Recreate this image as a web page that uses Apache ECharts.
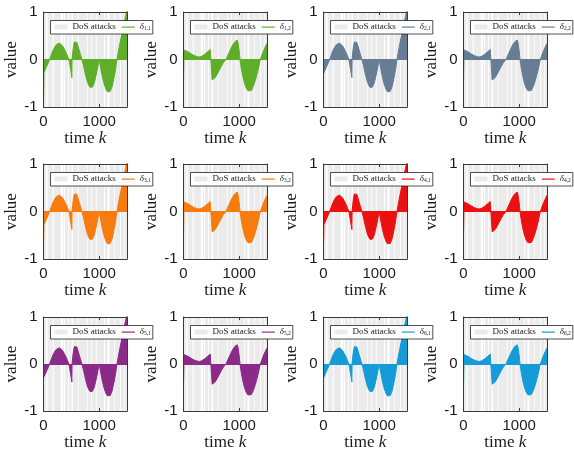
<!DOCTYPE html>
<html>
<head>
<meta charset="utf-8">
<script src="https://cdn.jsdelivr.net/npm/echarts@6/dist/echarts.min.js"></script>
<style>html,body{margin:0;padding:0;background:#fff}#c{width:574px;height:453px}</style>
</head>
<body>
<div id="c"></div>
<script>
// ---- data ----
var seriesNames = ['δ1,1','δ1,2','δ2,1','δ2,2','δ3,1','δ3,2','δ4,1','δ4,2','δ5,1','δ5,2','δ6,1','δ6,2'];
var seriesColors = ['#5fae2a','#5fae2a','#667d94','#667d94','#f87b0e','#f87b0e','#ec1111','#ec1111','#8c2a89','#8c2a89','#149bd8','#149bd8'];
// initial jump at k=0 : [upper, lower]
var initialSpikes = [[1,-0.95],[0.5,-0.45],[0.2,-0.3],[0.5,-0.5],[1,-0.75],[0.45,-0.5],[1,-0.7],[0.5,-0.5],[1,0],[0.45,-0.45],[0.2,-0.3],[0.5,-0.5]];
// envelope of delta_{i,1}
var envelopeFirst = [[8,-0.27],[30,-0.22],[60,-0.14],[90,-0.06],[110,0],[140,0.1],[170,0.19],[200,0.26],[230,0.31],[260,0.34],[285,0.345],[310,0.33],[340,0.29],[370,0.23],[400,0.16],[430,0.08],[455,0],
  [470,-0.1],[485,-0.2],[500,-0.3],[510,-0.38],[514,0],[525,0.15],[540,0.29],[555,0.37],[570,0.41],[585,0.4],[600,0.36],[620,0.28],[645,0.18],[670,0.08],[690,0],
  [720,-0.14],[750,-0.3],[780,-0.44],[810,-0.54],[840,-0.59],[860,-0.6],[880,-0.58],[910,-0.5],[940,-0.36],[970,-0.19],[1000,0],
  [1030,-0.2],[1060,-0.38],[1090,-0.52],[1120,-0.62],[1150,-0.68],[1175,-0.69],[1200,-0.67],[1230,-0.58],[1260,-0.43],[1290,-0.24],[1320,0],
  [1350,0.2],[1380,0.38],[1410,0.56],[1440,0.73],[1470,0.9],[1500,1.05]];
// envelope of delta_{i,2}
var envelopeSecond = [[10,0.2],[50,0.18],[100,0.15],[150,0.11],[200,0.08],[250,0.06],[290,0.055],[330,0.07],[380,0.11],[430,0.16],[480,0.21],[510,0.25],
  [515,-0.43],[540,-0.42],[570,-0.38],[600,-0.32],[640,-0.23],[680,-0.14],[720,-0.06],[765,0],
  [800,0.1],[840,0.2],[880,0.3],[920,0.37],[950,0.41],[965,0.41],[980,0.35],[1000,0.18],[1015,0],
  [1040,-0.2],[1070,-0.38],[1100,-0.52],[1130,-0.61],[1160,-0.66],[1190,-0.68],[1220,-0.65],[1260,-0.55],[1300,-0.4],[1340,-0.22],[1380,0],
  [1410,0.1],[1440,0.19],[1470,0.27],[1500,0.34]];
// DoS attack intervals
var dosIntervals = [[0,50],[75,165],[185,310],[350,365],[385,440],[455,505],[530,615],[630,780],[795,855],[870,940],[955,1090],[1105,1150],[1185,1270],[1285,1375],[1390,1450],[1460,1500]];
var xTicks = [0, 1000];
var yTicks = [-1, 0, 1];

// ---- layout ----
var colLeft = [43.5, 183.5, 323.5, 463.5];
var rowTop = [12, 164, 317];
var rowH = [95, 95, 94];
var gridW = 83.5;
var dosColor = '#ebebeb';
var frameColor = '#3a3a3a';
var textColor = '#1a1a1a';

var option = {animation:false, grid:[], xAxis:[], yAxis:[], series:[], legend:[]};
for (var p = 0; p < 12; p++) {
  var r = Math.floor(p/4), c = p % 4;
  option.grid.push({left:colLeft[c], top:rowTop[r], width:gridW, height:rowH[r], containLabel:false});
  var common = {gridIndex:p, type:'value', min:xTicks[0], max:1500, interval:xTicks[1]-xTicks[0], z:5,
    axisLine:{show:true, onZero:false, lineStyle:{color:frameColor, width:1}},
    axisTick:{show:true, inside:true, length:3, lineStyle:{color:frameColor}},
    splitLine:{show:false}};
  option.xAxis.push(Object.assign({}, common, {position:'bottom',
    axisLabel:{show:true, showMaxLabel:false, margin:7, fontFamily:'Liberation Sans', fontSize:15, color:textColor,
      formatter:function(v){return String(v);}},
    name:'{a|time }{b|k}', nameLocation:'middle', nameGap:22,
    nameTextStyle:{color:textColor, fontFamily:'Liberation Serif', fontSize:17,
      rich:{a:{fontFamily:'Liberation Serif', fontSize:17, color:textColor}, b:{fontFamily:'Liberation Serif', fontSize:17, fontStyle:'italic', color:textColor}}}}));
  option.xAxis.push(Object.assign({}, common, {position:'top', axisLabel:{show:false}}));
  var ycommon = {gridIndex:p, type:'value', min:yTicks[0], max:yTicks[2], interval:yTicks[1]-yTicks[0], z:5,
    axisLine:{show:true, onZero:false, lineStyle:{color:frameColor, width:1}},
    axisTick:{show:false}, splitLine:{show:false}};
  option.yAxis.push(Object.assign({}, ycommon, {position:'left',
    axisLabel:{show:true, margin:6, fontFamily:'Liberation Sans', fontSize:15, color:textColor},
    name:'value', nameLocation:'middle', nameGap:23, nameRotate:90,
    nameTextStyle:{color:textColor, fontFamily:'Liberation Serif', fontSize:17}}));
  option.yAxis.push(Object.assign({}, ycommon, {position:'right', axisLabel:{show:false}}));

  option.series.push({
    name:'DoS attacks', type:'custom', xAxisIndex:2*p, yAxisIndex:2*p, z:1, silent:true,
    encode:{x:[0,1]},
    data:dosIntervals,
    itemStyle:{color:dosColor},
    renderItem:function(params, api){
      var cs = params.coordSys;
      var s = api.coord([api.value(0), 0]);
      var e = api.coord([api.value(1), 0]);
      var rect = echarts.graphic.clipRectByRect({x:s[0], y:cs.y, width:e[0]-s[0], height:cs.height},
        {x:cs.x, y:cs.y, width:cs.width, height:cs.height});
      if (!rect) return null;
      return {type:'rect', shape:rect, style:{fill:dosColor}};
    }
  });
  var env = (c % 2 === 0) ? envelopeFirst : envelopeSecond;
  var data = [[0, initialSpikes[p][0]], [0, initialSpikes[p][1]]].concat(env);
  option.series.push({
    name:seriesNames[p], type:'line', xAxisIndex:2*p, yAxisIndex:2*p, z:2,
    data:data, showSymbol:false, symbol:'none', smooth:false, clip:true,
    lineStyle:{color:seriesColors[p], width:1},
    itemStyle:{color:seriesColors[p]},
    areaStyle:{color:seriesColors[p], opacity:1},
    markLine:{silent:true, symbol:['none','none'], label:{show:false},
      lineStyle:{color:seriesColors[p], width:1, type:'solid'}, data:[{yAxis:0}]}
  });
  option.legend.push({
    left:colLeft[c]+7, top:rowTop[r]+8.5, width:100, orient:'horizontal', z:10,
    selectedMode:false, backgroundColor:'#fff', borderColor:'#222', borderWidth:0.8,
    padding:[2,2,2,4], itemGap:6, itemWidth:13, itemHeight:5,
    textStyle:{fontFamily:'Liberation Serif', fontSize:9, color:textColor,
      rich:{d:{fontFamily:'Liberation Serif', fontSize:9, fontStyle:'italic', color:textColor, lineHeight:10, verticalAlign:'middle'},
            s:{fontFamily:'Liberation Serif', fontSize:5.5, color:textColor, lineHeight:6, verticalAlign:'bottom'}}},
    formatter:function(name){
      if (name.charAt(0) === 'δ') return '{d|δ}{s|' + name.slice(1) + '}';
      return name;
    },
    data:[{name:'DoS attacks', icon:'rect', itemStyle:{color:dosColor}},
          {name:seriesNames[p], icon:'path://M0,0L0,0M13,5L13,5M0,2L13,2L13,3.2L0,3.2Z', itemStyle:{color:seriesColors[p]}}]
  });
}
var chart = echarts.init(document.getElementById('c'), null, {renderer:'canvas'});
chart.setOption(option);
</script>
</body>
</html>
